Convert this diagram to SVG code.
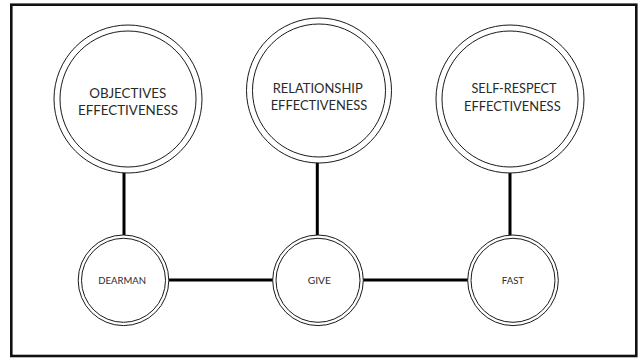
<svg xmlns="http://www.w3.org/2000/svg" width="641" height="358" viewBox="0 0 641 358">
  <style>
    .ring { fill: #ffffff; stroke: #1a1a1a; stroke-width: 1; }
    .ring-in { fill: none; stroke: #1a1a1a; stroke-width: 1; }
    .link { stroke: #000000; stroke-width: 3; fill: none; }
    .big { font-family: Lato, "Liberation Sans", sans-serif; font-size: 14px; fill: #2a2a2a; text-anchor: middle; }
    .small { font-family: Lato, "Liberation Sans", sans-serif; font-size: 8.5px; fill: #2a2a2a; text-anchor: middle; }
  </style>

  <rect x="0" y="0" width="641" height="358" fill="#ffffff"/>
  <!-- outer frame -->
  <rect x="11.3" y="4.7" width="625" height="351.3" fill="none" stroke="#111111" stroke-width="2.6"/>

  <!-- connectors -->
  <g id="connectors">
    <line class="link" x1="124" y1="173" x2="124" y2="235"/>
    <line class="link" x1="317.3" y1="162.5" x2="317.3" y2="235"/>
    <line class="link" x1="510" y1="173" x2="510" y2="235"/>
    <line class="link" x1="169" y1="280" x2="273" y2="280"/>
    <line class="link" x1="363" y1="280" x2="468" y2="280"/>
  </g>

  <!-- skill goals -->
  <g id="objectives">
    <circle class="ring" cx="128" cy="99" r="74"/>
    <circle class="ring-in" cx="128" cy="99" r="68"/>
    <text class="big" x="127.7" y="98.3" textLength="77" lengthAdjust="spacingAndGlyphs">OBJECTIVES</text>
    <text class="big" x="128" y="114.5" textLength="100" lengthAdjust="spacingAndGlyphs">EFFECTIVENESS</text>
  </g>
  <g id="relationship">
    <circle class="ring" cx="319" cy="90.5" r="72.5"/>
    <circle class="ring-in" cx="319" cy="90.5" r="66.5"/>
    <text class="big" x="317.7" y="93.3" textLength="90" lengthAdjust="spacingAndGlyphs">RELATIONSHIP</text>
    <text class="big" x="319" y="109.5" textLength="96.7" lengthAdjust="spacingAndGlyphs">EFFECTIVENESS</text>
  </g>
  <g id="self-respect">
    <circle class="ring" cx="510" cy="99" r="74"/>
    <circle class="ring-in" cx="510" cy="99" r="68"/>
    <text class="big" x="514" y="93.3" textLength="85" lengthAdjust="spacingAndGlyphs">SELF-RESPECT</text>
    <text class="big" x="512.3" y="110.5" textLength="96.7" lengthAdjust="spacingAndGlyphs">EFFECTIVENESS</text>
  </g>

  <!-- skill sets -->
  <g id="dearman">
    <circle class="ring" cx="123.5" cy="280.3" r="45.3"/>
    <circle class="ring-in" cx="123.5" cy="280.3" r="42"/>
    <text class="small" x="122.2" y="284.3" textLength="47.7" lengthAdjust="spacingAndGlyphs">DEARMAN</text>
  </g>
  <g id="give">
    <circle class="ring" cx="318" cy="280.3" r="45.3"/>
    <circle class="ring-in" cx="318" cy="280.3" r="42"/>
    <text class="small" x="319.3" y="284.3" textLength="23.3" lengthAdjust="spacingAndGlyphs">GIVE</text>
  </g>
  <g id="fast">
    <circle class="ring" cx="513" cy="280.3" r="45.3"/>
    <circle class="ring-in" cx="513" cy="280.3" r="42"/>
    <text class="small" x="512.9" y="284.3" textLength="22.3" lengthAdjust="spacingAndGlyphs">FAST</text>
  </g>
</svg>
